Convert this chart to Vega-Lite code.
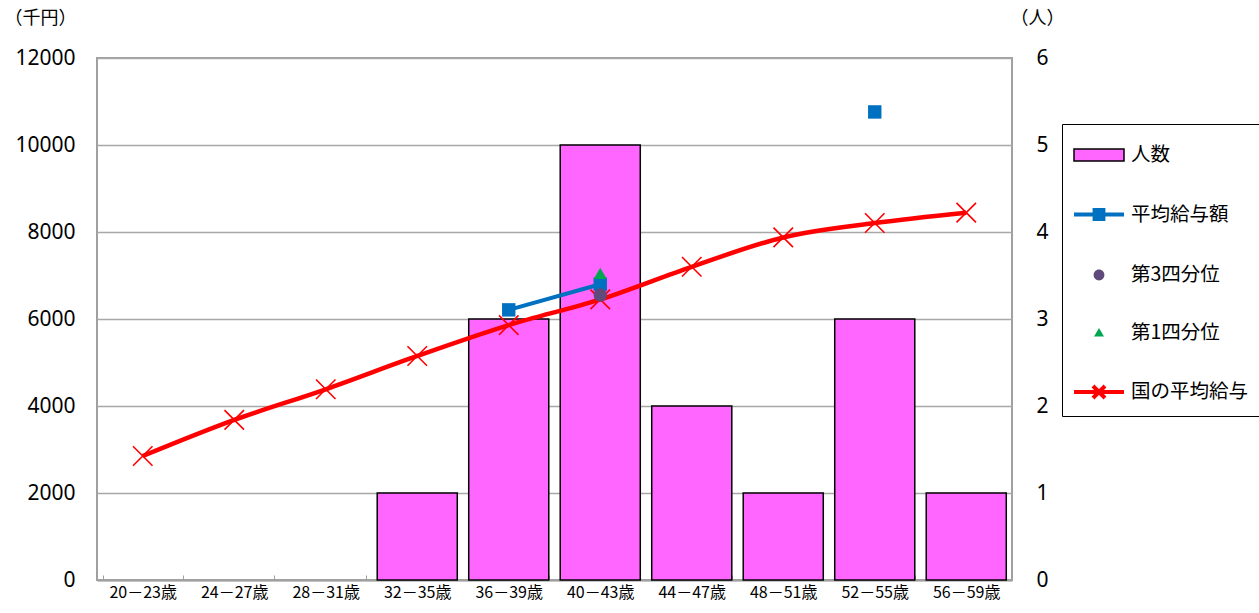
{
  "$schema": "https://vega.github.io/schema/vega-lite/v6.json",
  "autosize": {"type": "none"},
  "width": 915,
  "height": 522,
  "padding": {"left": 97, "top": 58, "right": 247, "bottom": 33},
  "background": "white",
  "config": {
    "font": "Noto Sans CJK JP",
    "view": {"stroke": "#A0A0A0", "strokeWidth": 2},
    "axis": {"labelFont": "Noto Sans CJK JP", "titleFont": "Noto Sans CJK JP", "labelColor": "#000", "titleColor": "#000", "titleFontWeight": "normal"},
    "legend": {
      "title": null, "orient": "none", "legendX": 965, "legendY": 66,
      "direction": "vertical",
      "strokeColor": "#000", "fillColor": "#fff", "padding": 10,
      "symbolSize": 1600, "rowPadding": 27.5, "labelFontSize": 19.5, "labelOffset": 15,
      "labelFont": "Noto Sans CJK JP", "labelColor": "#000", "symbolOpacity": 1
    }
  },
  "data": {
    "values": [
      {"age": "20－23歳", "count": null, "avg": null, "q3": null, "q1": null, "nat": 2850},
      {"age": "24－27歳", "count": null, "avg": null, "q3": null, "q1": null, "nat": 3680},
      {"age": "28－31歳", "count": null, "avg": null, "q3": null, "q1": null, "nat": 4385},
      {"age": "32－35歳", "count": 1, "avg": null, "q3": null, "q1": null, "nat": 5150},
      {"age": "36－39歳", "count": 3, "avg": 6210, "q3": null, "q1": null, "nat": 5860},
      {"age": "40－43歳", "count": 5, "avg": 6800, "q3": 6550, "q1": 7050, "nat": 6450},
      {"age": "44－47歳", "count": 2, "avg": null, "q3": null, "q1": null, "nat": 7200},
      {"age": "48－51歳", "count": 1, "avg": null, "q3": null, "q1": null, "nat": 7875},
      {"age": "52－55歳", "count": 3, "avg": 10760, "q3": null, "q1": null, "nat": 8207},
      {"age": "56－59歳", "count": 1, "avg": null, "q3": null, "q1": null, "nat": 8445}
    ]
  },
  "encoding": {
    "x": {
      "field": "age", "type": "nominal", "sort": null,
      "scale": {"domain": ["20－23歳", "24－27歳", "28－31歳", "32－35歳", "36－39歳", "40－43歳", "44－47歳", "48－51歳", "52－55歳", "56－59歳"],
                "paddingInner": 0.125, "paddingOuter": 0.0625},
      "axis": {"title": null, "labelAngle": 0, "labelFontSize": 16, "labelPadding": 9,
               "domainColor": "#A0A0A0", "domainWidth": 2, "tickColor": "#A0A0A0", "tickBand": "extent", "tickSize": -5}
    }
  },
  "layer": [
    {
      "mark": {"type": "bar"},
      "encoding": {
        "y": {"field": "count", "type": "quantitative",
              "scale": {"domain": [0, 6], "nice": false},
              "axis": {"orient": "right", "values": [0, 1, 2, 3, 4, 5, 6], "grid": false,
                       "labelFont": "Noto Sans", "labelFontSize": 21, "labelPadding": 24, "ticks": false, "domain": false,
                       "title": "（人）", "titleAngle": 0, "titleFontSize": 18, "titleX": 25, "titleY": -40,
                       "titleAlign": "center", "titleBaseline": "middle"}},
        "color": {"datum": "人数", "type": "nominal",
          "scale": {"domain": ["人数", "平均給与額", "第3四分位", "第1四分位", "国の平均給与"],
                    "range": ["#FF66FF", "#0070C0", "#604A7B", "#00A650", "transparent"]}},
        "stroke": {"datum": "人数", "type": "nominal",
          "scale": {"domain": ["人数", "平均給与額", "第3四分位", "第1四分位", "国の平均給与"],
                    "range": ["#000000", "#0070C0", "transparent", "transparent", "#FF0000"]}},
        "strokeWidth": {"datum": "人数", "type": "nominal",
          "scale": {"type": "ordinal", "domain": ["人数", "平均給与額", "第3四分位", "第1四分位", "国の平均給与"],
                    "range": [1.5, 4, 0, 0, 4]}}
      }
    },
    {
      "layer": [
        {
          "mark": {"type": "line", "color": "#FF0000", "strokeWidth": 4.5, "interpolate": "monotone"},
          "encoding": {
            "y": {"field": "nat", "type": "quantitative",
                  "scale": {"domain": [0, 12000], "nice": false},
                  "axis": {"orient": "left", "values": [0, 2000, 4000, 6000, 8000, 10000, 12000], "format": "d",
                           "grid": true, "gridColor": "#A8A8A8", "gridWidth": 1.5,
                           "labelFont": "Noto Sans", "labelFontSize": 21, "labelPadding": 22, "ticks": false, "domain": false,
                           "title": "（千円）", "titleAngle": 0, "titleFontSize": 18, "titleX": -57, "titleY": -40,
                           "titleAlign": "center", "titleBaseline": "middle"}}
          }
        },
        {
          "mark": {"type": "point", "shape": "M-1,-1L1,1M-1,1L1,-1", "filled": false, "color": "#FF0000", "strokeWidth": 1.6, "size": 380, "opacity": 1},
          "encoding": {"y": {"field": "nat", "type": "quantitative"}}
        },
        {
          "mark": {"type": "line", "color": "#0070C0", "strokeWidth": 4},
          "encoding": {"y": {"field": "avg", "type": "quantitative"}}
        },
        {
          "mark": {"type": "point", "shape": "square", "filled": true, "color": "#0070C0", "size": 180, "opacity": 1},
          "encoding": {"y": {"field": "avg", "type": "quantitative"}}
        },
        {
          "mark": {"type": "point", "shape": "triangle-up", "filled": true, "color": "#00A650", "size": 170, "opacity": 1},
          "encoding": {"y": {"field": "q1", "type": "quantitative"}}
        },
        {
          "mark": {"type": "point", "shape": "circle", "filled": true, "color": "#604A7B", "size": 180, "opacity": 1},
          "encoding": {"y": {"field": "q3", "type": "quantitative"}}
        },
        {
          "mark": {"type": "point", "opacity": 0, "filled": true},
          "encoding": {
            "y": {"field": "nat", "type": "quantitative"},
            "shape": {"datum": "人数", "type": "nominal",
              "scale": {"domain": ["人数", "平均給与額", "第3四分位", "第1四分位", "国の平均給与"],
                        "range": ["M-1,-0.3H1.5V0.3H-1Z",
                                  "M-1,0H1.5M0.03,-0.22H0.47V0.22H0.03Z",
                                  "M-0.02,0A0.27,0.27 0 1,0 0.52,0A0.27,0.27 0 1,0 -0.02,0Z",
                                  "M0.25,-0.23L0.5,0.2H0Z",
                                  "M-1,0H1.5M-0.05,-0.3L0.55,0.3M-0.05,0.3L0.55,-0.3"]}}
          }
        }
      ]
    }
  ],
  "resolve": {"scale": {"y": "independent"}}
}
